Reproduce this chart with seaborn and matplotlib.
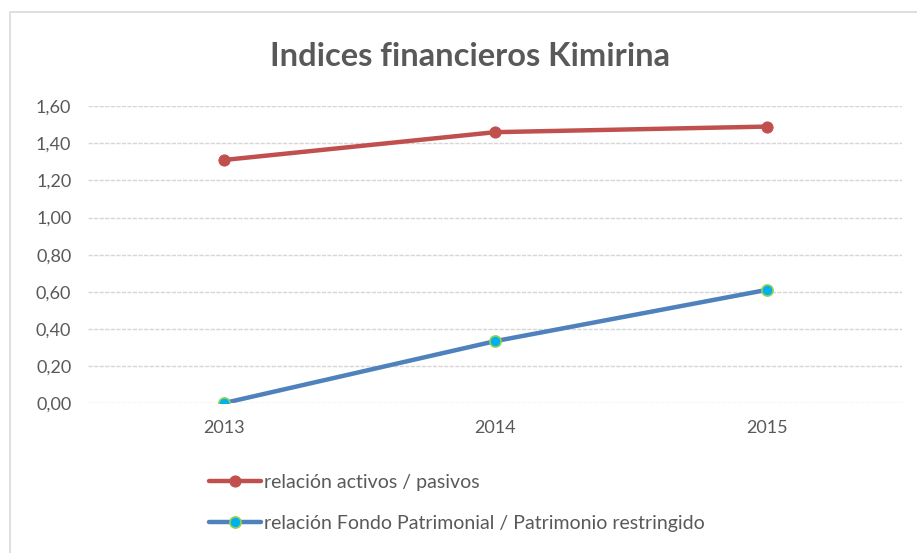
# librerias
import pandas as pd
import seaborn as sns
import matplotlib.pyplot as plt
from matplotlib.patches import Rectangle

# datos del grafico
years = ["2013", "2014", "2015"]
activos_pasivos = [1.31, 1.46, 1.49]
fondo_patrimonio = [0.00, 0.334, 0.61]
label_activos = "relación activos / pasivos"
label_fondo = "relación Fondo Patrimonial / Patrimonio restringido"
y_ticks = [0.0, 0.2, 0.4, 0.6, 0.8, 1.0, 1.2, 1.4, 1.6]

sns.set_style("white")
plt.rcParams["font.family"] = ["Lato", "DejaVu Sans"]

df = pd.DataFrame({"year": years, "activos": activos_pasivos, "fondo": fondo_patrimonio})

fig = plt.figure(figsize=(9.17, 5.53), dpi=100)
ax = fig.add_axes([0.096, 0.271, 0.888, 0.537])

# borde del area del grafico
fig.patches.append(Rectangle((10 / 917, -0.1), 1.2, 1 - 12 / 553 + 0.1,
                             transform=fig.transFigure, fill=False,
                             edgecolor="#d9d9d9", linewidth=1.2))

sns.lineplot(data=df, x="year", y="activos", ax=ax, color="#C0504D", linewidth=3.2,
             marker="o", markersize=8, markeredgecolor="#C0504D", label=label_activos,
             legend=False)
sns.lineplot(data=df, x="year", y="fondo", ax=ax, color="#4F81BD", linewidth=3.2,
             marker="o", markersize=8, markerfacecolor="#00B0F0",
             markeredgecolor="#92D050", markeredgewidth=1.2, label=label_fondo,
             legend=False)

ax.set_xlim(-0.5, 2.5)
ax.set_ylim(0, 1.6)
ax.set_yticks(y_ticks)
ax.set_yticklabels([f"{v:.2f}".replace(".", ",") for v in y_ticks])
ax.grid(axis="y", color="#d6d6d6", linestyle=(0, (3, 1)), linewidth=1)
ax.set_axisbelow(True)
for s in ax.spines.values():
    s.set_visible(False)
ax.tick_params(axis="both", length=0, labelsize=13, labelcolor="#595959")
ax.tick_params(axis="x", pad=12)
ax.tick_params(axis="y", pad=12)
ax.set_xlabel("")
ax.set_ylabel("")

fig.text(0.513, 0.897, "Indices financieros Kimirina", ha="center", va="center",
         fontsize=23.5, fontweight="bold", color="#595959")

handles, labels = ax.get_legend_handles_labels()
fig.legend(handles, labels, loc="upper left", bbox_to_anchor=(0.217, 0.16),
           frameon=False, fontsize=14, handlelength=2.7, handletextpad=0.15,
           labelspacing=1.2, borderpad=0, labelcolor="#595959")

fig.savefig("out.png", dpi=100)
